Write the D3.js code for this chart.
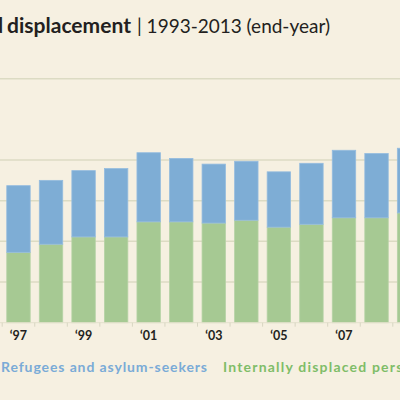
<!DOCTYPE html>
<html lang="en">
<head>
<meta charset="UTF-8">
<title>Global forced displacement 1993-2013</title>
<script src="https://d3js.org/d3.v7.min.js"></script>
<style>
  html, body { margin: 0; padding: 0; background: #f6f0e1; }
  svg { display: block; font-family: Lato, "Open Sans", sans-serif; }
</style>
</head>
<body>
<svg id="chart" width="400" height="400"></svg>
<script>
  // end-year figures, millions
  const years = [1997, 1998, 1999, 2000, 2001, 2002, 2003, 2004, 2005, 2006, 2007, 2008, 2009];
  const idps = [17.3, 19.3, 21.1, 21.1, 24.8, 24.8, 24.5, 25.2, 23.5, 24.2, 25.8, 25.8, 27.0];
  const refugees = [16.4, 15.7, 16.3, 16.8, 17.0, 15.6, 14.5, 14.5, 13.6, 15.0, 16.6, 15.8, 15.9];
  const tickYears = [1997, 1999, 2001, 2003, 2005, 2007];
  const gridValues = [10, 20, 30, 40];
  const seriesNames = ["Refugees and asylum-seekers", "Internally displaced persons"];

  const svg = d3.select("#chart");
  const W = 400;
  const base = 322.7;

  const x = d3.scaleBand()
      .domain(years)
      .range([2.2, 2.2 + years.length * 32.55])
      .paddingInner(0.28)
      .paddingOuter(0.14);

  const y = d3.scaleLinear().domain([0, 60]).range([base, 78.7]);

  // title (left part cut off by the crop)
  svg.append("text")
      .attr("x", 3).attr("y", 33)
      .attr("text-anchor", "end")
      .style("font-size", "20px").style("font-weight", "bold")
      .attr("fill", "#231f20")
      .text("Global forced");
  svg.append("text")
      .attr("x", 7).attr("y", 33)
      .style("font-size", "20px").style("font-weight", "bold")
      .attr("fill", "#231f20")
      .attr("textLength", 124).attr("lengthAdjust", "spacingAndGlyphs")
      .text("displacement");
  svg.append("text")
      .attr("x", 137).attr("y", 33)
      .style("font-size", "20px")
      .attr("fill", "#231f20")
      .attr("textLength", 193).attr("lengthAdjust", "spacingAndGlyphs")
      .text("| 1993-2013 (end-year)");

  // rule under the title
  svg.append("line")
      .attr("x1", 0).attr("x2", W)
      .attr("y1", y(60)).attr("y2", y(60))
      .attr("stroke", "#dcdbc3").attr("stroke-width", 1.5);

  // grid
  svg.append("g").selectAll("line")
      .data(gridValues)
      .join("line")
      .attr("x1", 0).attr("x2", W)
      .attr("y1", d => y(d)).attr("y2", d => y(d))
      .attr("stroke", "#dcdbc3").attr("stroke-width", 1.5);

  const stack = d3.stack().keys(["idp", "ref"])(
      years.map((yr, i) => ({ year: yr, idp: idps[i], ref: refugees[i] })));
  const colors = { idp: "#a6c993", ref: "#7eadd5" };
  const edges = { idp: "#b6d3a6", ref: "#95bcdf" };

  stack.forEach(layer => {
    svg.append("g").selectAll("rect")
        .data(layer)
        .join("rect")
        .attr("x", d => x(d.data.year))
        .attr("width", x.bandwidth())
        .attr("y", d => y(d[1]))
        .attr("height", d => y(d[0]) - y(d[1]))
        .attr("fill", colors[layer.key])
        .attr("stroke", edges[layer.key])
        .attr("stroke-width", 0.8);
  });

  // baseline and ticks between the years
  svg.append("line")
      .attr("x1", 0).attr("x2", W)
      .attr("y1", base).attr("y2", base)
      .attr("stroke", "#e3e0cc").attr("stroke-width", 1);

  const bounds = years.map(yr => x(yr) - x.step() * x.paddingOuter());
  svg.append("g").selectAll("line")
      .data(bounds)
      .join("line")
      .attr("x1", d => d).attr("x2", d => d)
      .attr("y1", base).attr("y2", base + 4)
      .attr("stroke", "#d8d6c2").attr("stroke-width", 1);

  svg.append("g").selectAll("text")
      .data(tickYears)
      .join("text")
      .attr("x", d => x(d) + x.bandwidth() / 2)
      .attr("y", 340)
      .attr("text-anchor", "middle")
      .style("font-size", "12.5px").style("font-weight", "bold")
      .attr("fill", "#231f20")
      .text(d => "\u2018" + String(d).slice(2));

  // legend (second entry runs past the right edge, as in the crop)
  svg.append("text")
      .attr("x", 1).attr("y", 372)
      .style("font-size", "14px").style("font-weight", "bold")
      .attr("fill", "#7aabd7")
      .attr("textLength", 206).attr("lengthAdjust", "spacing")
      .text(seriesNames[0]);
  svg.append("text")
      .attr("x", 223).attr("y", 372)
      .style("font-size", "14px").style("font-weight", "bold")
      .attr("fill", "#7fbd68")
      .attr("textLength", 205).attr("lengthAdjust", "spacing")
      .text(seriesNames[1]);
</script>
</body>
</html>
